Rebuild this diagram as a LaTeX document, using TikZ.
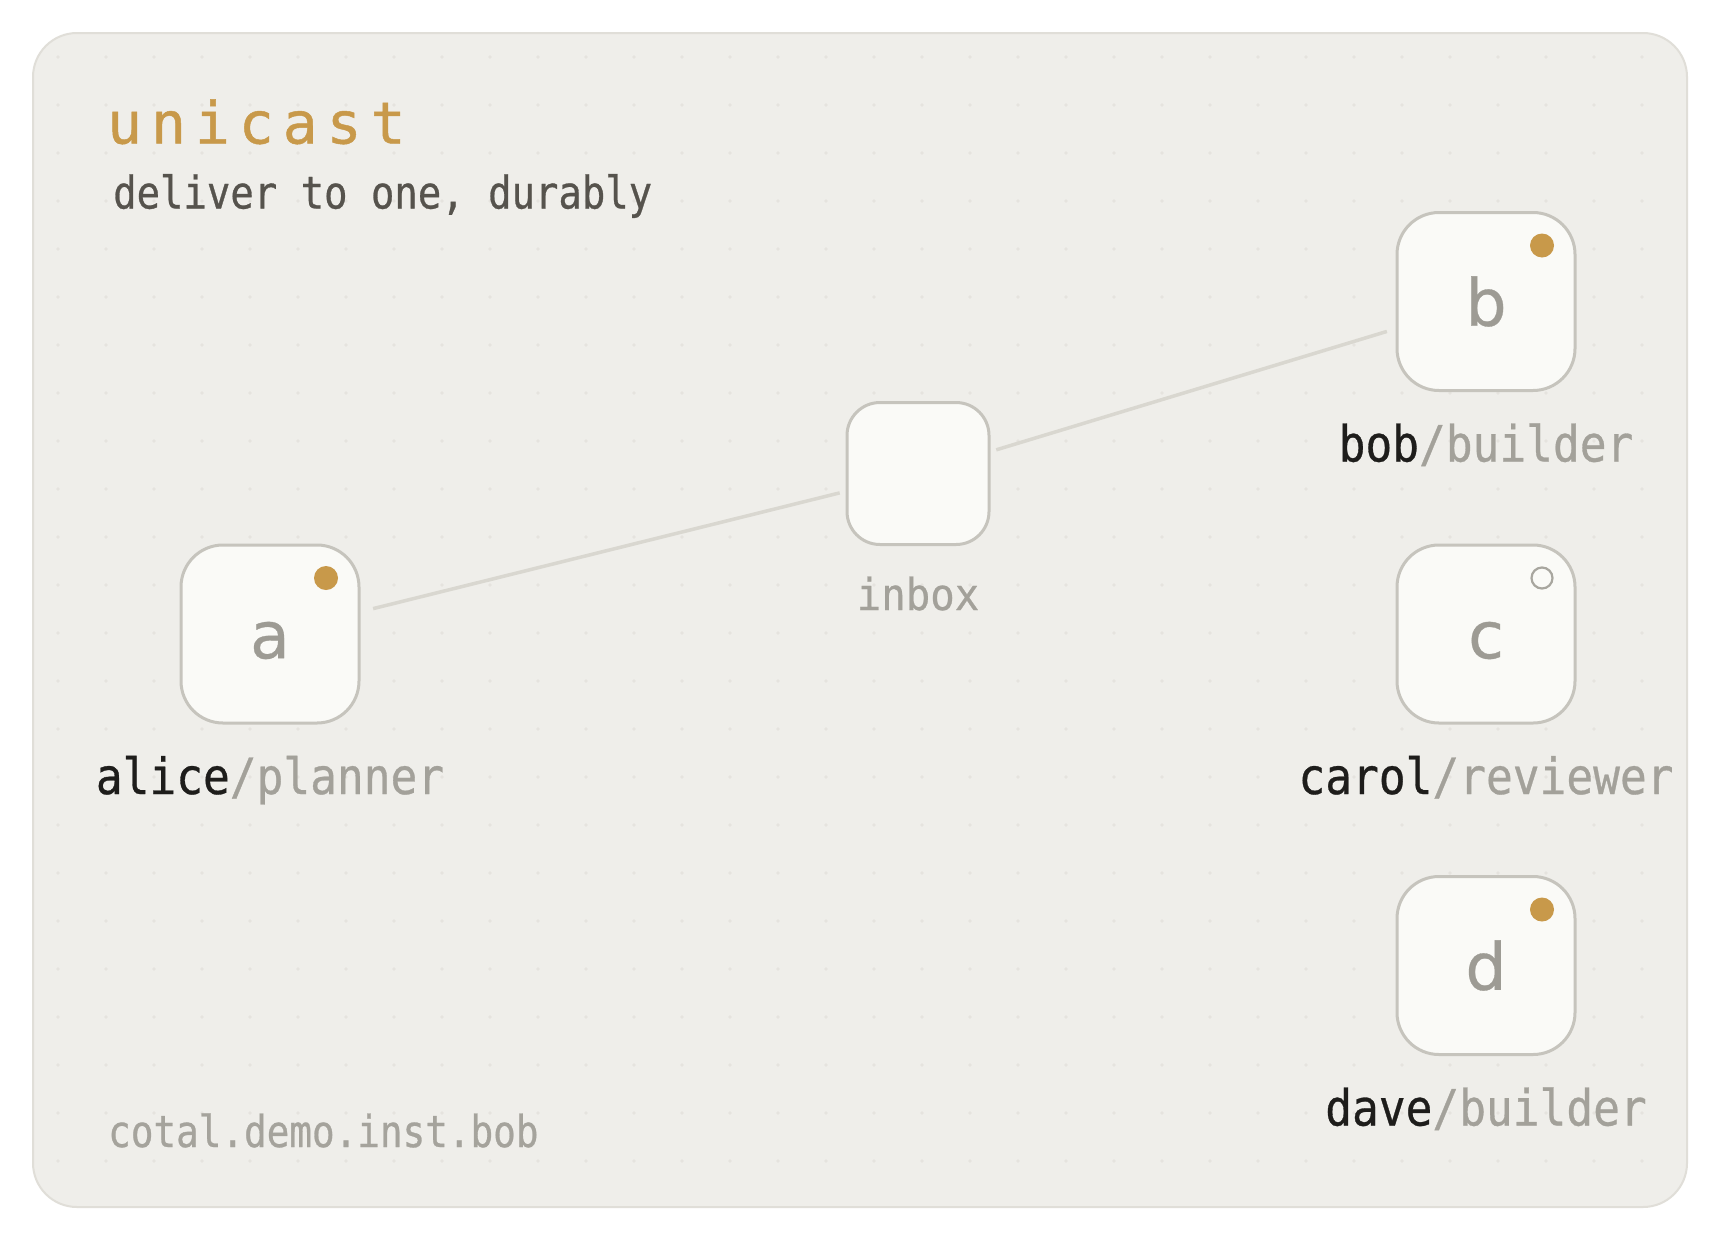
\documentclass[tikz,border=0pt]{standalone}
\usepackage{fontspec}
\usetikzlibrary{calc}
\newfontfamily\titlefont[LetterSpace=15.5,FakeBold=0.8]{DejaVu Sans Mono}
\newfontfamily\subfont[FakeStretch=0.865,FakeBold=0.6]{DejaVu Sans Mono}
\newfontfamily\labfont[FakeStretch=0.89,FakeBold=0.6]{DejaVu Sans Mono}
\newfontfamily\inboxfont[FakeStretch=0.925,FakeBold=0.5]{DejaVu Sans Mono}
\newfontfamily\footfont[FakeStretch=0.855,FakeBold=0.6]{DejaVu Sans Mono}
\newfontfamily\letterfont[FakeBold=0.5]{DejaVu Sans}
\definecolor{cardbg}{HTML}{EFEEEA}
\definecolor{cardline}{HTML}{E0DED8}
\definecolor{gridc}{HTML}{E5E3DE}
\definecolor{boxbg}{HTML}{FAFAF7}
\definecolor{boxline}{HTML}{C6C4BD}
\definecolor{gold}{HTML}{C8994A}
\definecolor{edgec}{HTML}{D9D7D0}
\definecolor{lettc}{HTML}{9D9B94}
\definecolor{rolec}{HTML}{A3A19A}
\definecolor{namec}{HTML}{1E1D1B}
\definecolor{subc}{HTML}{56534D}
\definecolor{footc}{HTML}{A5A39C}
\definecolor{ringc}{HTML}{A8A69F}
\tikzset{
  agent/.style={draw=boxline, line width=3pt, fill=boxbg, rounded corners=42pt,
    minimum size=178pt, inner sep=0pt, text=lettc,
    font=\letterfont\fontsize{65}{65}\selectfont},
  hub/.style={agent, minimum size=142pt, rounded corners=33pt},
  lab/.style={anchor=base, inner sep=0pt, font=\labfont\fontsize{50}{50}\selectfont},
  link/.style={draw=edgec, line width=3.5pt},
  livedot/.style={fill=gold},
  idledot/.style={draw=ringc, line width=2.2pt, fill=boxbg},
}
\begin{document}
\begin{tikzpicture}[x=1pt, y=-1pt]
\useasboundingbox (0,0) rectangle (1720,1240);
\fill[white] (0,0) rectangle (1720,1240);
% card
\draw[cardline, fill=cardbg, line width=2pt, rounded corners=44pt] (33,33) rectangle (1687,1207);
% dot grid
\foreach \i in {0,...,33}{
  \foreach \j in {0,...,23}{
    \fill[gridc] ({58+48*\i},{57+48*\j}) circle[radius=1.8];
  }
}
% title texts
\node[anchor=base west, inner sep=0pt, text=gold, font=\titlefont\fontsize{58}{58}\selectfont] (title) at (107,143.5) {unicast};
\node[anchor=base west, inner sep=0pt, text=subc, font=\subfont\fontsize{45}{45}\selectfont] (sub) at (113,208.5) {deliver to one, durably};
\node[anchor=base west, inner sep=0pt, text=footc, font=\footfont\fontsize{44}{44}\selectfont] (foot) at (108,1147) {cotal.demo.inst.bob};
% nodes
\node[agent] (a) at (270,634) {\vphantom{b}a};
\node[hub] (inbox) at (918,473.5) {};
\node[agent] (b) at (1486,301.5) {b};
\node[agent] (c) at (1486,634) {\vphantom{b}c};
\node[agent] (d) at (1486,965.5) {d};
% connectors
\draw[link, shorten <=13pt, shorten >=6pt] (a) -- (inbox);
\draw[link, shorten <=6pt, shorten >=9pt] (inbox) -- (b);
% status dots
\fill[livedot] ($(a.center)+(56,-56)$) circle[radius=12];
\fill[livedot] ($(b.center)+(56,-56)$) circle[radius=12];
\draw[idledot] ($(c.center)+(56,-56)$) circle[radius=10.5];
\fill[livedot] ($(d.center)+(56,-56)$) circle[radius=12];
% labels
\node[lab] (la) at (270,794) {\textcolor{namec}{alice}\textcolor{rolec}{/planner}};
\node[lab] (lb) at (1486,461.5) {\textcolor{namec}{bob}\textcolor{rolec}{/builder}};
\node[lab] (lc) at (1486,794) {\textcolor{namec}{carol}\textcolor{rolec}{/reviewer}};
\node[lab] (ld) at (1486,1125.5) {\textcolor{namec}{dave}\textcolor{rolec}{/builder}};
\node[lab, text=rolec, font=\inboxfont\fontsize{44}{44}\selectfont] (linbox) at (918,610) {inbox};
\end{tikzpicture}
\end{document}
